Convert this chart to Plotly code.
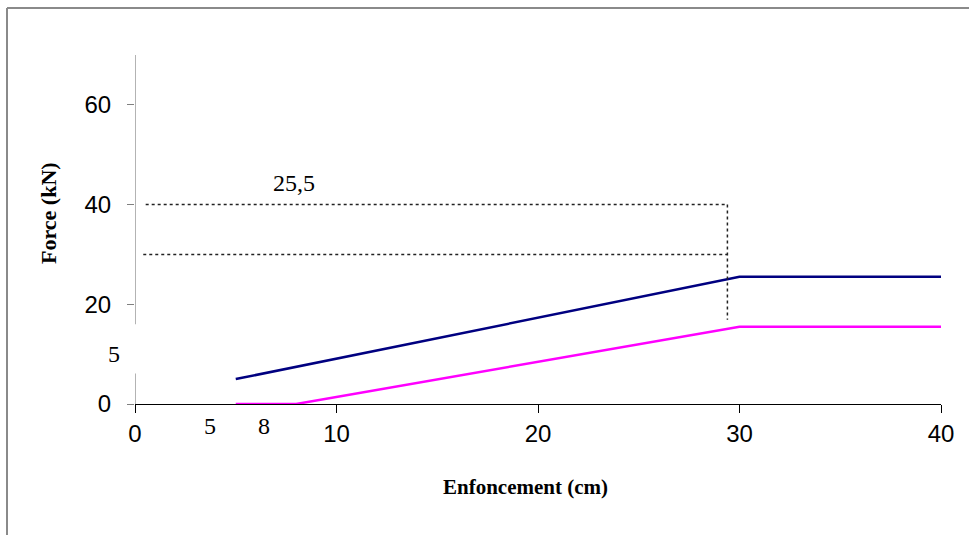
import plotly.graph_objects as go

# ---- data ----
navy_x = [5, 30, 40]
navy_y = [5, 25.5, 25.5]
pink_x = [5, 8, 30, 40]
pink_y = [0, 0, 15.5, 15.5]

guide_h_y = [40, 30]          # horizontal dotted guides
guide_h_x0 = [0.53, 0.41]
guide_h_x1 = 29.4
guide_v_x = 29.4
guide_v_y = [40, 16.9]

x_ticks = [0, 10, 20, 30, 40]
y_ticks = [0, 20, 40, 60]
y_axis_segments = [(0, 6.1), (16.0, 70)]

labels = [  # text, x, y (data coords)
    ("25,5", 7.9, 44.3),
    ("5", -1.05, 10.0),
    ("5", 3.7, -4.4),
    ("8", 6.4, -4.4),
]

W, H = 969, 535
L, R, T, B = 135, 28, 55, 131
PW, PH = W - L - R, H - T - B
X0, X1, Y0, Y1 = 0, 40, 0, 70


def pxx(p):
    return (p - L) / PW


def pxy(p):
    return 1 - (p - T) / PH


def dx(v):  # data x -> paper
    return (v - X0) / (X1 - X0)


def dy(v):  # data y -> paper
    return (v - Y0) / (Y1 - Y0)


fig = go.Figure()
fig.add_trace(go.Scatter(x=navy_x, y=navy_y, mode="lines",
                         line=dict(color="#000080", width=2.5), cliponaxis=False,
                         showlegend=False, hoverinfo="skip"))
fig.add_trace(go.Scatter(x=pink_x, y=pink_y, mode="lines",
                         line=dict(color="#FF00FF", width=2.5), cliponaxis=False,
                         showlegend=False, hoverinfo="skip"))

shapes = []
for yv, x0 in zip(guide_h_y, guide_h_x0):
    shapes.append(dict(type="line", xref="x", yref="y", x0=x0, x1=guide_h_x1, y0=yv, y1=yv,
                       line=dict(color="#222222", width=1.5, dash="dot")))
shapes.append(dict(type="line", xref="x", yref="y", x0=guide_v_x, x1=guide_v_x,
                   y0=guide_v_y[0], y1=guide_v_y[1],
                   line=dict(color="#222222", width=1.5, dash="dot")))
for y0, y1 in y_axis_segments:
    shapes.append(dict(type="line", xref="x", yref="y", x0=0, x1=0, y0=y0, y1=y1,
                       line=dict(color="#808080", width=1.2), layer="below"))
# outer frame (left and top edges)
shapes.append(dict(type="line", xref="paper", yref="paper", x0=pxx(7), x1=pxx(7),
                   y0=pxy(8), y1=pxy(540), line=dict(color="#8a8a8a", width=2)))
shapes.append(dict(type="line", xref="paper", yref="paper", x0=pxx(7), x1=pxx(975),
                   y0=pxy(8), y1=pxy(8), line=dict(color="#8a8a8a", width=2)))

annotations = []
for txt, xv, yv in labels:
    annotations.append(dict(text=txt, x=dx(xv), y=dy(yv), xref="paper", yref="paper",
                            xanchor="center", yanchor="middle", showarrow=False,
                            font=dict(family="Liberation Serif", size=24, color="black")))
annotations.append(dict(text="<b>Force (kN)</b>", x=pxx(48), y=pxy(213), xref="paper", yref="paper",
                        xanchor="center", yanchor="middle", showarrow=False, textangle=-90,
                        font=dict(family="Liberation Serif", size=22, color="black")))
annotations.append(dict(text="<b>Enfoncement (cm)</b>", x=pxx(525), y=pxy(487), xref="paper",
                        yref="paper", xanchor="center", yanchor="middle", showarrow=False,
                        font=dict(family="Liberation Serif", size=21, color="black")))

fig.update_layout(
    width=W, height=H,
    margin=dict(l=L, r=R, t=T, b=B, pad=0),
    paper_bgcolor="white", plot_bgcolor="white",
    shapes=shapes, annotations=annotations,
    xaxis=dict(range=[X0, X1], tickvals=x_ticks, ticks="outside", ticklen=8, tickcolor="black",
               showline=True, linecolor="black", linewidth=1.2, showgrid=False, zeroline=False,
               layer="below traces",
               tickfont=dict(family="Liberation Sans", size=24, color="black")),
    yaxis=dict(range=[Y0, Y1], tickvals=y_ticks, ticks="outside", ticklen=7, tickcolor="#808080",
               showline=False, showgrid=False, zeroline=False, ticklabelstandoff=11,
               tickfont=dict(family="Liberation Sans", size=24, color="black")),
)

fig.write_html("out.html", config={"displayModeBar": False},
               post_script="document.body.style.margin='0';document.body.style.overflow='hidden';")
